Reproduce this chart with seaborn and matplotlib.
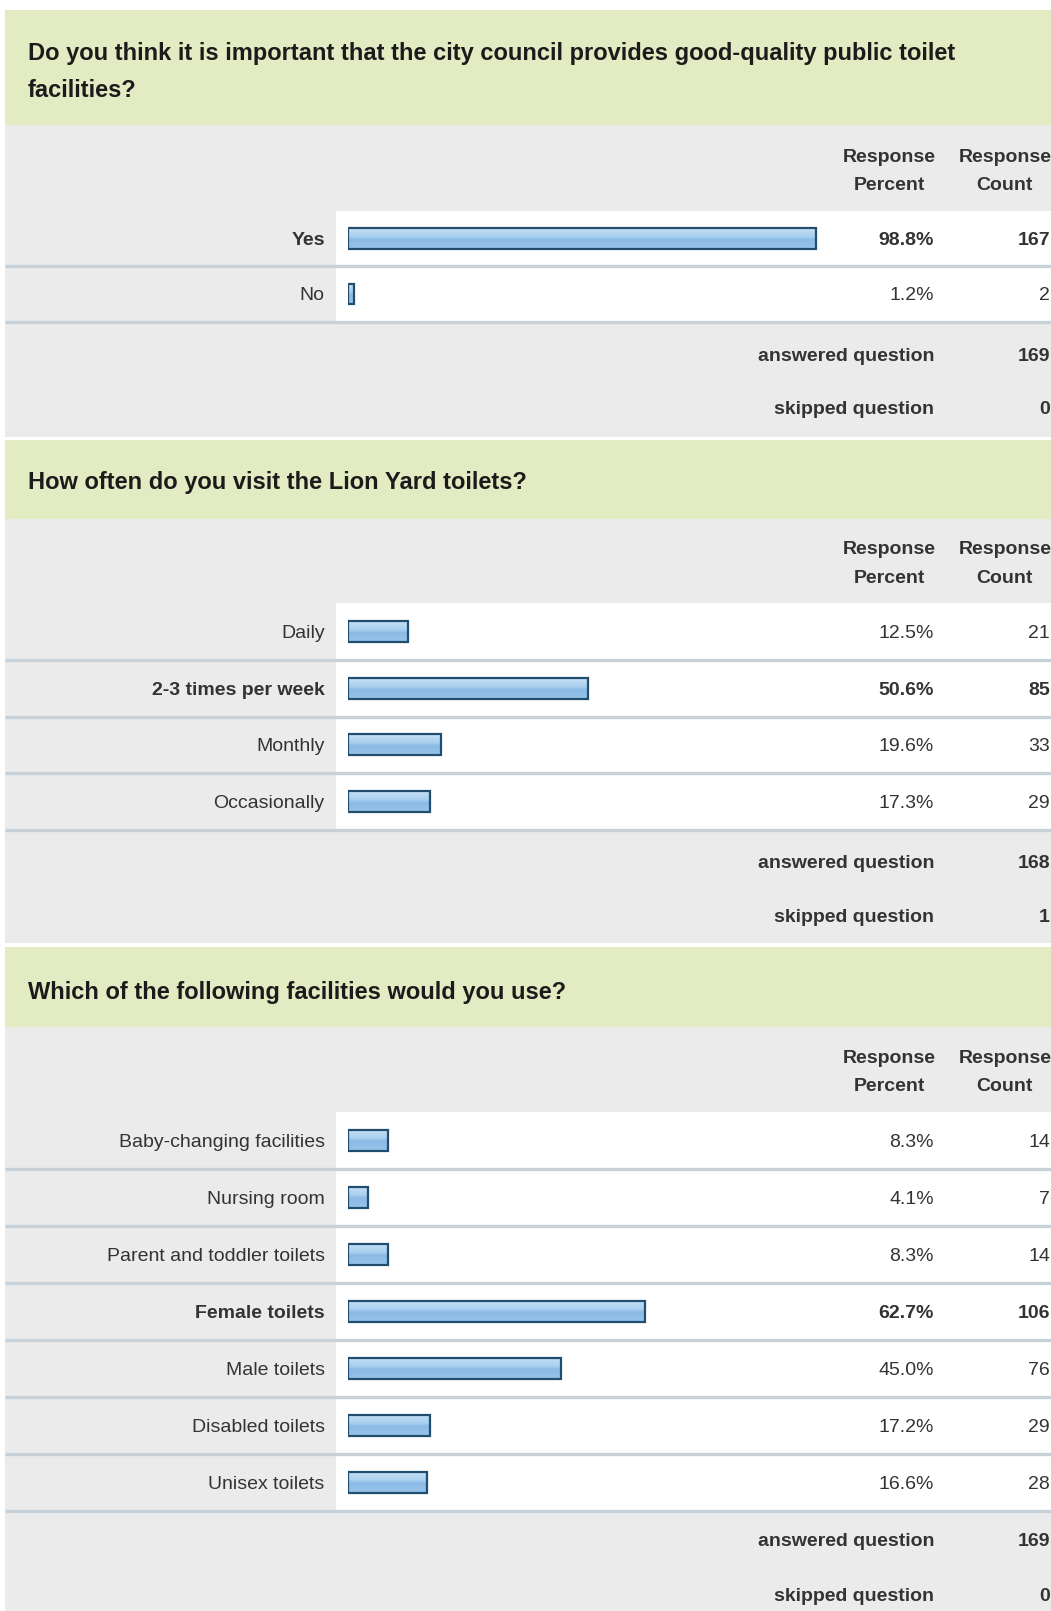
import numpy as np
import matplotlib
matplotlib.use("Agg")
import matplotlib.pyplot as plt
import matplotlib.transforms as mtransforms
from matplotlib.patches import Rectangle
from matplotlib.colors import LinearSegmentedColormap
import seaborn as sns
import pandas as pd

# ---------------- data ----------------
q1_title = ["Do you think it is important that the city council provides good-quality public toilet",
            "facilities?"]
q1_categories = ["Yes", "No"]
q1_percent = [98.8, 1.2]
q1_count = [167, 2]
q1_answered = 169
q1_skipped = 0

q2_title = ["How often do you visit the Lion Yard toilets?"]
q2_categories = ["Daily", "2-3 times per week", "Monthly", "Occasionally"]
q2_percent = [12.5, 50.6, 19.6, 17.3]
q2_count = [21, 85, 33, 29]
q2_answered = 168
q2_skipped = 1

q3_title = ["Which of the following facilities would you use?"]
q3_categories = ["Baby-changing facilities", "Nursing room", "Parent and toddler toilets",
                 "Female toilets", "Male toilets", "Disabled toilets", "Unisex toilets"]
q3_percent = [8.3, 4.1, 8.3, 62.7, 45.0, 17.2, 16.6]
q3_count = [14, 7, 14, 106, 76, 29, 28]
q3_answered = 169
q3_skipped = 0

header_top = ["Response", "Response"]
header_bottom = ["Percent", "Count"]
summary_labels = ["answered question", "skipped question"]

# ---------------- style ----------------
sns.set_style("white")
plt.rcParams["font.family"] = ["Liberation Sans", "DejaVu Sans"]

W, H = 1051, 1611
GREEN = "#e3ebc2"
GRAY = "#ebebeb"
SEP = "#c6d1d9"
TXT = "#333333"
TITLE_TXT = "#1b1b1b"
EDGE = "#214d6e"
bar_cmap = LinearSegmentedColormap.from_list(
    "bar", [(0.0, "#c6e0f5"), (0.42, "#a9cfee"), (0.55, "#8abae5"), (1.0, "#98c4ea")])

BODY_FS = 14.0
TITLE_FS = 17.0
DY = 2.0  # small vertical nudge of text (pixels)

LEFT = 5.0
WHITE_X = 336.0
BAR_X0 = 348.3
BAR_W100 = 473.6
LABEL_X = 324.7
PCT_X = 934.0
CNT_X = 1050.0
HDR_PCT_CX = 889.7
HDR_CNT_CX = 1004.8

sections = [
    dict(title=q1_title, cats=q1_categories, pct=q1_percent, cnt=q1_count,
         answered=q1_answered, skipped=q1_skipped,
         green=(10.3, 125.3), title_y=[51.4, 88.4], hdr_y=(155.1, 183.9),
         rows_top=210.6, row_h=55.5, sum_y=(354.5, 407.9), bottom=436.6),
    dict(title=q2_title, cats=q2_categories, pct=q2_percent, cnt=q2_count,
         answered=q2_answered, skipped=q2_skipped,
         green=(439.7, 518.8), title_y=[480.8], hdr_y=(547.6, 576.4),
         rows_top=603.1, row_h=56.75, sum_y=(861.0, 915.4), bottom=943.2),
    dict(title=q3_title, cats=q3_categories, pct=q3_percent, cnt=q3_count,
         answered=q3_answered, skipped=q3_skipped,
         green=(947.3, 1027.4), title_y=[990.4], hdr_y=(1056.2, 1084.9),
         rows_top=1111.6, row_h=57.0, sum_y=(1539.0, 1594.5), bottom=1611.0),
]

fig = plt.figure(figsize=(W / 100, H / 100), dpi=100)
fig.patch.set_facecolor("white")
bg = fig.add_axes([0, 0, 1, 1])
bg.set_xlim(0, W)
bg.set_ylim(H, 0)
bg.set_axis_off()

grad = np.linspace(0, 1, 64).reshape(-1, 1)

for s in sections:
    g0, g1 = s["green"]
    n = len(s["cats"])
    rows_top = s["rows_top"]
    row_h = s["row_h"]
    rows_bot = rows_top + n * row_h

    # backgrounds
    bg.add_patch(Rectangle((LEFT, g0), W - LEFT, g1 - g0, facecolor=GREEN, edgecolor="none", zorder=0))
    bg.add_patch(Rectangle((LEFT, g1), W - LEFT, s["bottom"] - g1, facecolor=GRAY, edgecolor="none", zorder=0))
    bg.add_patch(Rectangle((WHITE_X, rows_top), W - WHITE_X, rows_bot - rows_top,
                           facecolor="white", edgecolor="none", zorder=0.5))
    for i in range(n):
        yb = rows_top + (i + 1) * row_h
        bg.plot([LEFT, W], [yb, yb], color=SEP, lw=2.4, zorder=1, solid_capstyle="butt")

    # title
    for line, ty in zip(s["title"], s["title_y"]):
        bg.text(27.7, ty + DY, line, fontsize=TITLE_FS, fontweight="bold", color=TITLE_TXT,
                ha="left", va="center")

    # column headers
    for cx, top, bot in zip([HDR_PCT_CX, HDR_CNT_CX], header_top, header_bottom):
        bg.text(cx, s["hdr_y"][0] + DY, top, fontsize=BODY_FS, fontweight="bold", color=TXT,
                ha="center", va="center")
        bg.text(cx, s["hdr_y"][1] + DY, bot, fontsize=BODY_FS, fontweight="bold", color=TXT,
                ha="center", va="center")

    # summary rows
    for lab, val, sy in zip(summary_labels, [s["answered"], s["skipped"]], s["sum_y"]):
        bg.text(PCT_X, sy + DY, lab, fontsize=BODY_FS, fontweight="bold", color=TXT, ha="right", va="center")
        bg.text(CNT_X, sy + DY, str(val), fontsize=BODY_FS, fontweight="bold", color=TXT, ha="right", va="center")

    # bar axes
    ax = fig.add_axes([BAR_X0 / W, 1 - rows_bot / H, BAR_W100 / W, (rows_bot - rows_top) / H])
    df = pd.DataFrame({"category": s["cats"], "percent": s["pct"]})
    sns.barplot(data=df, x="percent", y="category", orient="h", ax=ax, width=0.37,
                color="#93c0e8", edgecolor=EDGE, linewidth=1.6, saturation=1)
    ax.set_xlim(0, 100)
    ax.set_ylim(n - 0.5, -0.5)
    ax.patch.set_alpha(0)
    ax.set_axis_off()

    for p in list(ax.patches):
        x0, y0 = p.get_x(), p.get_y()
        w, h = p.get_width(), p.get_height()
        im = ax.imshow(grad, cmap=bar_cmap, aspect="auto", origin="upper",
                       extent=(x0, x0 + w, y0 + h, y0), interpolation="bicubic",
                       zorder=p.get_zorder() - 0.5)
        im.set_clip_path(p)
        p.set_facecolor("none")
    ax.set_xlim(0, 100)
    ax.set_ylim(n - 0.5, -0.5)

    trans = mtransforms.blended_transform_factory(bg.transData, ax.transData)
    off = mtransforms.ScaledTranslation(0, -DY / 100, fig.dpi_scale_trans)
    imax = int(np.argmax(s["pct"]))
    for i, (cat, pv, cv) in enumerate(zip(s["cats"], s["pct"], s["cnt"])):
        fw = "bold" if i == imax else "normal"
        ax.text(LABEL_X, i, cat, transform=trans + off, fontsize=BODY_FS, fontweight=fw, color=TXT,
                ha="right", va="center")
        ax.text(PCT_X, i, f"{pv:.1f}%", transform=trans + off, fontsize=BODY_FS, fontweight=fw, color=TXT,
                ha="right", va="center")
        ax.text(CNT_X, i, str(cv), transform=trans + off, fontsize=BODY_FS, fontweight=fw, color=TXT,
                ha="right", va="center")

fig.savefig("out.png", dpi=100)
